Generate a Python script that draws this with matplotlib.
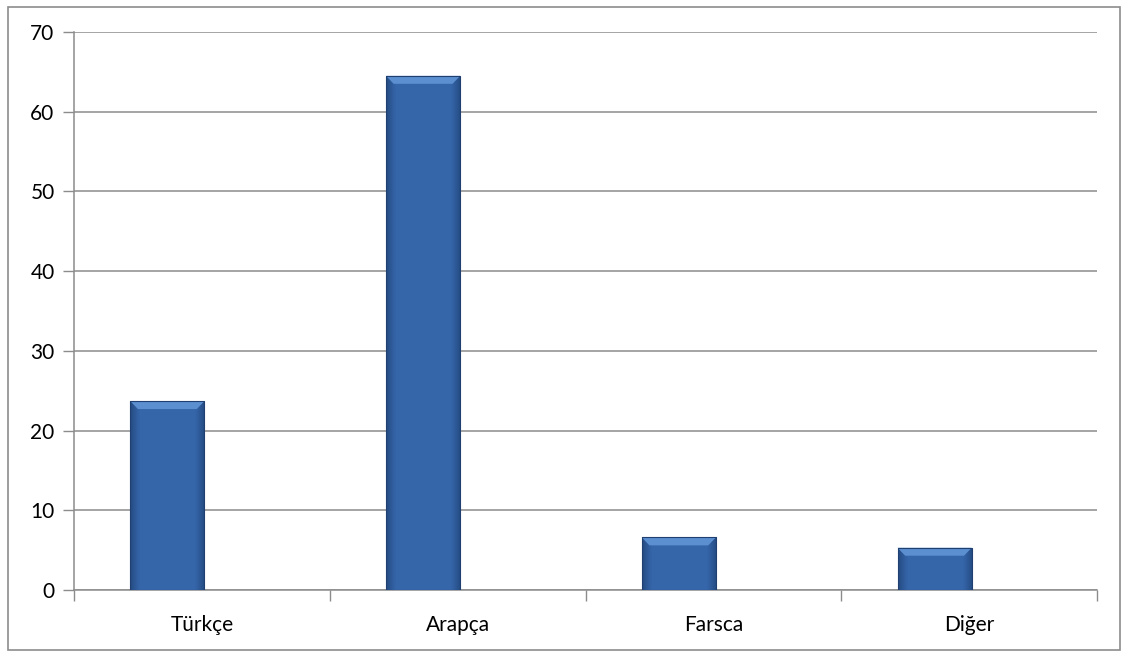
import matplotlib

matplotlib.use("Agg")
import matplotlib.pyplot as plt
import numpy as np
from matplotlib.patches import Polygon, Rectangle

# Dil dağılımı (%)
categories = ["Türkçe", "Arapça", "Farsca", "Diğer"]
values = [23.7, 64.5, 6.6, 5.3]
y_ticks = [0, 10, 20, 30, 40, 50, 60, 70]

plt.rcParams["font.family"] = ["Lato", "DejaVu Sans"]

fig = plt.figure(figsize=(11.28, 6.57), dpi=100)
ax = fig.add_axes([74 / 1128, 1 - 590 / 657, 1023 / 1128, 558 / 657])

# dış çerçeve
fig.patches.append(Rectangle((8 / 1128, 7 / 657), 1112 / 1128, 643 / 657,
                             transform=fig.transFigure, fill=False,
                             edgecolor="#8c8c8c", linewidth=1.2))

x = np.arange(len(categories))
bar_w = 0.29
offset = -0.135
gx = x + offset

base = "#3566aa"
for xi, v in zip(gx, values):
    l, r = xi - bar_w / 2, xi + bar_w / 2
    rect = Rectangle((l, 0), bar_w, v, facecolor=base, edgecolor="none",
                     zorder=3)
    ax.add_patch(rect)
    # kenarlara doğru koyulaşan gölge
    t = np.linspace(0, 1, 40)
    shade = np.zeros((1, 40, 4))
    shade[0, :, 0] = 0.10
    shade[0, :, 1] = 0.22
    shade[0, :, 2] = 0.40
    shade[0, :, 3] = np.clip(1 - np.minimum(t, 1 - t) / 0.12, 0, 1) * 0.55
    sim = ax.imshow(shade, extent=(l, r, 0, v), aspect="auto", zorder=3.5,
                    interpolation="bilinear")
    sim.set_clip_path(rect)
    # üst eğim
    dx, dy = 0.03, 1.0
    ax.add_patch(Polygon([(l, v), (r, v), (r - dx, v - dy), (l + dx, v - dy)],
                         closed=True, facecolor="#5b8fd0", edgecolor="none",
                         zorder=4))
    ax.add_patch(Rectangle((l, 0), bar_w, v, fill=False, edgecolor="#1f3f70",
                           linewidth=0.8, zorder=4.5))

ax.set_xlim(-0.5, len(categories) - 0.5)
ax.set_ylim(0, 70)
ax.set_yticks(y_ticks)
ax.set_xticks(x)
ax.set_xticklabels(categories)
ax.set_xticks(np.arange(-0.5, len(categories), 1.0), minor=True)
ax.tick_params(axis="x", which="major", length=0, pad=18, labelsize=15)
ax.tick_params(axis="x", which="minor", length=8, color="#8c8c8c", width=1)
ax.tick_params(axis="y", length=8, color="#8c8c8c", width=1, labelsize=15,
               pad=6)

ax.grid(axis="y", color="#8c8c8c", linewidth=1.1, zorder=0)
ax.set_axisbelow(True)
for side in ["top", "right"]:
    ax.spines[side].set_visible(False)
for side in ["left", "bottom"]:
    ax.spines[side].set_color("#8c8c8c")
    ax.spines[side].set_linewidth(1.1)

fig.savefig("out.png", dpi=100)
